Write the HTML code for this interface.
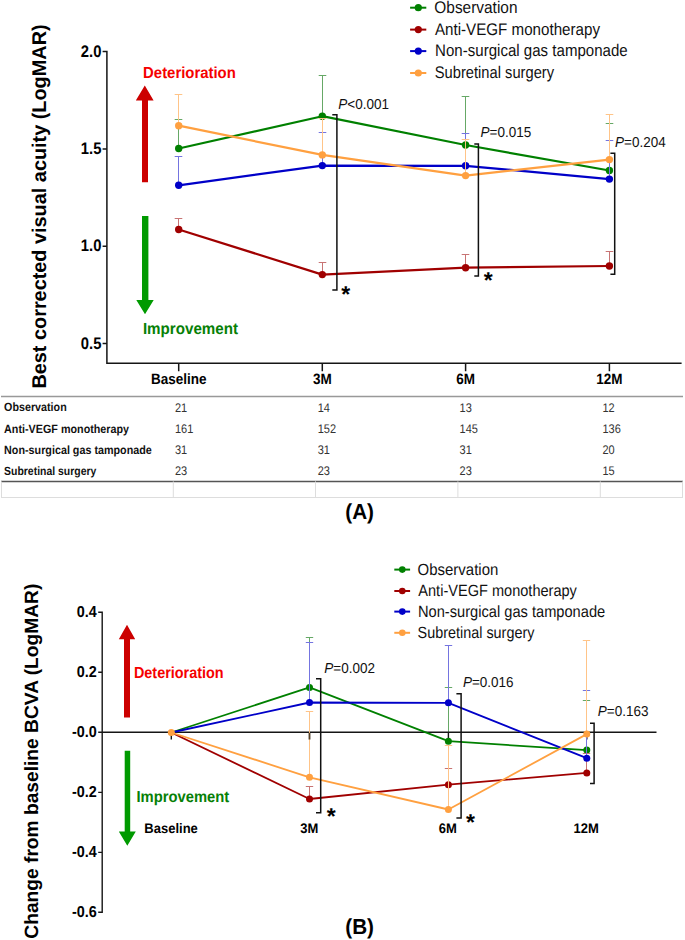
<!DOCTYPE html>
<html><head><meta charset="utf-8"><style>
html,body{margin:0;padding:0;background:#fff;width:685px;height:940px;overflow:hidden}
svg{display:block;font-family:"Liberation Sans",sans-serif;text-rendering:geometricPrecision}
.tb{font-weight:bold;fill:#000}
.eg{stroke:#66a866;stroke-width:1;fill:none}
.er{stroke:#c87474;stroke-width:1;fill:none}
.eb{stroke:#7474e0;stroke-width:1;fill:none}
.eo{stroke:#ffc488;stroke-width:1;fill:none}
.br{stroke:#111;stroke-width:1.5;fill:none}
</style></head><body>
<svg width="685" height="940" viewBox="0 0 685 940">
<!-- ================= CHART A ================= -->
<!-- y axis title -->
<text class="tb" font-size="19.87" transform="translate(46.1,206.5) rotate(-90)" text-anchor="middle">Best corrected visual acuity (LogMAR)</text>
<!-- axes -->
<path d="M102.6 51.5H106.9V363.3H681.6M102.6 149H106.9M102.6 246.2H106.9M102.6 343.6H106.9M178.7 363.3V371.2M322.3 363.3V371.2M465.6 363.3V371.2M609.4 363.3V371.2" stroke="#151515" stroke-width="1.5" fill="none"/>
<g class="tb" font-size="14.8" text-anchor="end">
<text transform="translate(101.4,57) scale(1,1.13)">2.0</text>
<text transform="translate(101.4,154) scale(1,1.13)">1.5</text>
<text transform="translate(101.4,251) scale(1,1.13)">1.0</text>
<text transform="translate(101.4,349) scale(1,1.13)">0.5</text>
</g>
<g class="tb" font-size="13.5" text-anchor="middle">
<text transform="translate(178.8,384) scale(1,1.107)">Baseline</text>
<text transform="translate(322.3,384) scale(1,1.107)">3M</text>
<text transform="translate(465.6,384) scale(1,1.107)">6M</text>
<text transform="translate(609.4,384) scale(1,1.107)">12M</text>
</g>
<!-- arrows -->
<path d="M142 182.2V100.6H135.8L144.8 85.5L153.6 100.6H148V182.2Z" fill="#cc0000"/>
<path d="M142 215.9V299.9H136.3L145 314.2L153.7 299.9H148.4V215.9Z" fill="#009a00"/>
<text transform="translate(143.1,78) scale(1,1.073)" font-size="14.9" font-weight="bold" fill="#f50000">Deterioration</text>
<text transform="translate(142.9,334) scale(1,1.06)" font-size="15.15" font-weight="bold" fill="#068006">Improvement</text>

<!-- series A -->
<path class="eg" d="M178.5 148.5V119.5M174.7 119.5H182.3M322.5 116.2V75.5M318.7 75.5H326.3M465.5 145V96.5M461.7 96.5H469.3M609.5 170.5V123.5M605.7 123.5H613.3"/>
<polyline points="178.7,148.5 322.3,116.2 465.6,145 609.4,170.5" stroke="#008000" stroke-width="2.2" fill="none" stroke-linejoin="round"/>
<g fill="#008000"><circle cx="178.7" cy="148.5" r="3.7"/><circle cx="322.3" cy="116.2" r="3.7"/><circle cx="465.6" cy="145" r="3.7"/><circle cx="609.4" cy="170.5" r="3.7"/></g>
<path class="er" d="M178.5 229.5V218.5M174.7 218.5H182.3M322.5 274.6V262.5M318.7 262.5H326.3M465.5 267.7V254.5M461.7 254.5H469.3M609.5 266V251.5M605.7 251.5H613.3"/>
<polyline points="178.7,229.5 322.3,274.6 465.6,267.7 609.4,266" stroke="#a00000" stroke-width="2.2" fill="none" stroke-linejoin="round"/>
<g fill="#a00000"><circle cx="178.7" cy="229.5" r="3.7"/><circle cx="322.3" cy="274.6" r="3.7"/><circle cx="465.6" cy="267.7" r="3.7"/><circle cx="609.4" cy="266" r="3.7"/></g>
<path class="eb" d="M178.5 185.3V156.5M174.7 156.5H182.3M322.5 165.6V132.5M318.7 132.5H326.3M465.5 165.8V133.5M461.7 133.5H469.3M609.5 179.1V140.5M605.7 140.5H613.3"/>
<polyline points="178.7,185.3 322.3,165.6 465.6,165.8 609.4,179.1" stroke="#0000c8" stroke-width="2.2" fill="none" stroke-linejoin="round"/>
<g fill="#0000c8"><circle cx="178.7" cy="185.3" r="3.7"/><circle cx="322.3" cy="165.6" r="3.7"/><circle cx="465.6" cy="165.8" r="3.7"/><circle cx="609.4" cy="179.1" r="3.7"/></g>
<path class="eo" d="M178.5 125.7V94.5M174.7 94.5H182.3M322.5 154.9V118.5M318.7 118.5H326.3M465.5 175.6V139.5M461.7 139.5H469.3M609.5 159.6V114.5M605.7 114.5H613.3"/>
<polyline points="178.7,125.7 322.3,154.9 465.6,175.6 609.4,159.6" stroke="#ffa040" stroke-width="2.2" fill="none" stroke-linejoin="round"/>
<g fill="#ffa040"><circle cx="178.7" cy="125.7" r="3.7"/><circle cx="322.3" cy="154.9" r="3.7"/><circle cx="465.6" cy="175.6" r="3.7"/><circle cx="609.4" cy="159.6" r="3.7"/></g>

<!-- brackets A -->
<path class="br" d="M332.3 114.7H336.9V290.1H332.3M474.3 143.9H478.4V275.9H474.3M610.4 153.3H614.7V274.2H610.4"/>
<g font-size="13.5" fill="#111">
<text transform="translate(338.3,109) scale(1,1.07)"><tspan font-style="italic">P</tspan>&lt;0.001</text>
<text transform="translate(480.6,137) scale(1,1.07)"><tspan font-style="italic">P</tspan>=0.015</text>
<text transform="translate(615,147) scale(1,1.07)"><tspan font-style="italic">P</tspan>=0.204</text>
</g>
<g class="tb" font-size="23">
<text x="345.7" y="301.7" text-anchor="middle">*</text>
<text x="488.2" y="288.4" text-anchor="middle">*</text>
</g>

<!-- legend A -->
<g font-size="15" fill="#111">
<text transform="translate(434.3,13) scale(1,1.128)" textLength="83.2" lengthAdjust="spacingAndGlyphs">Observation</text>
<text transform="translate(434.9,35) scale(1,1.128)" textLength="165.1" lengthAdjust="spacingAndGlyphs">Anti-VEGF monotherapy</text>
<text transform="translate(435.1,56) scale(1,1.128)" textLength="192.6" lengthAdjust="spacingAndGlyphs">Non-surgical gas tamponade</text>
<text transform="translate(434.7,78) scale(1,1.128)" textLength="119.4" lengthAdjust="spacingAndGlyphs">Subretinal surgery</text>
</g>
<g stroke-width="2">
<path d="M410.1 7.7H426.3" stroke="#008000"/><circle cx="418.3" cy="7.7" r="3.6" fill="#008000"/>
<path d="M410.1 29.6H426.3" stroke="#a00000"/><circle cx="418.3" cy="29.6" r="3.6" fill="#a00000"/>
<path d="M410.1 51.1H426.3" stroke="#0000c8"/><circle cx="418.3" cy="51.1" r="3.6" fill="#0000c8"/>
<path d="M410.1 73H426.3" stroke="#ffa040"/><circle cx="418.3" cy="73" r="3.6" fill="#ffa040"/>
</g>

<!-- table -->
<path d="M1 396.4H683" stroke="#999" stroke-width="1.5"/>
<path d="M1 481.4H683" stroke="#555" stroke-width="1.5"/>
<path d="M1 497.5H683M1.5 481.4V497.5M173.3 481.4V497.5M315.5 481.4V497.5M457.9 481.4V497.5M600.3 481.4V497.5M682.5 481.4V497.5" stroke="#ddd" stroke-width="1"/>
<g font-size="10.5" font-weight="bold" fill="#111">
<text transform="translate(4.1,411) scale(1,1.14)" textLength="62.6" lengthAdjust="spacingAndGlyphs">Observation</text>
<text transform="translate(4.1,433) scale(1,1.14)" textLength="125" lengthAdjust="spacingAndGlyphs">Anti-VEGF monotherapy</text>
<text transform="translate(4.1,454) scale(1,1.14)" textLength="147.7" lengthAdjust="spacingAndGlyphs">Non-surgical gas tamponade</text>
<text transform="translate(4.1,475) scale(1,1.14)" textLength="92.2" lengthAdjust="spacingAndGlyphs">Subretinal surgery</text>
</g>
<g font-size="11" fill="#333">
<text transform="translate(175,412) scale(1,1.14)">21</text><text transform="translate(317.7,412) scale(1,1.14)">14</text><text transform="translate(459.6,412) scale(1,1.14)">13</text><text transform="translate(602.4,412) scale(1,1.14)">12</text>
<text transform="translate(175,433) scale(1,1.14)">161</text><text transform="translate(317.7,433) scale(1,1.14)">152</text><text transform="translate(459.6,433) scale(1,1.14)">145</text><text transform="translate(602.4,433) scale(1,1.14)">136</text>
<text transform="translate(175,454) scale(1,1.14)">31</text><text transform="translate(317.7,454) scale(1,1.14)">31</text><text transform="translate(459.6,454) scale(1,1.14)">31</text><text transform="translate(602.4,454) scale(1,1.14)">20</text>
<text transform="translate(175,475) scale(1,1.14)">23</text><text transform="translate(317.7,475) scale(1,1.14)">23</text><text transform="translate(459.6,475) scale(1,1.14)">23</text><text transform="translate(602.4,475) scale(1,1.14)">15</text>
</g>
<text class="tb" transform="translate(359.6,519) scale(1,1.05)" font-size="20.7" text-anchor="middle">(A)</text>

<!-- ================= CHART B ================= -->
<text class="tb" font-size="19.2" transform="translate(38.0,761.2) rotate(-90)" text-anchor="middle">Change from baseline BCVA (LogMAR)</text>
<g class="tb" font-size="14.4" text-anchor="end">
<text transform="translate(96.7,617) scale(1,1.1)">0.4</text>
<text transform="translate(96.7,677) scale(1,1.1)">0.2</text>
<text transform="translate(96.7,737) scale(1,1.1)">-0.0</text>
<text transform="translate(96.7,797) scale(1,1.1)">-0.2</text>
<text transform="translate(96.7,857) scale(1,1.1)">-0.4</text>
<text transform="translate(96.7,917) scale(1,1.1)">-0.6</text>
</g>
<g class="tb" font-size="13" text-anchor="middle">
<text transform="translate(171.1,833) scale(1,1.064)">Baseline</text>
<text transform="translate(309.3,833) scale(1,1.064)">3M</text>
<text transform="translate(447.8,833) scale(1,1.064)">6M</text>
<text transform="translate(586.2,833) scale(1,1.064)">12M</text>
</g>
<path d="M124 717.5V639.3H118.8L127 624.7L135.2 639.3H130V717.5Z" fill="#cc0000"/>
<path d="M124.7 750.8V831.4H118.8L127.3 845.7L135.8 831.4H130.2V750.8Z" fill="#009a00"/>
<text transform="translate(133.9,678) scale(1,1.107)" font-size="14.43" font-weight="bold" fill="#f50000">Deterioration</text>
<text transform="translate(136.5,802) scale(1,1.077)" font-size="14.78" font-weight="bold" fill="#068006">Improvement</text>

<!-- series B -->
<path class="eg" d="M309.5 687.4V637.5M305.8 637.5H313.2M448.5 741.2V687.5M444.8 687.5H452.2M586.5 750.1V700.5M582.8 700.5H590.2"/>
<path d="M98.2 612.2H102.2V912.3H98.2M98.2 672.2H102.2M98.2 792.4H102.2M98.2 852.4H102.2M98.2 732.3H656.5M171.3 732.3V739.5M309.5 732.3V739.5M448.4 732.3V739.5M586.8 732.3V739.5" stroke="#151515" stroke-width="1.4" fill="none"/>
<polyline points="171.3,732.5 309.5,687.4 448.4,741.2 586.8,750.1" stroke="#008000" stroke-width="1.8" fill="none" stroke-linejoin="round"/>
<g fill="#008000"><circle cx="309.5" cy="687.4" r="3.5"/><circle cx="448.4" cy="741.2" r="3.5"/><circle cx="586.8" cy="750.1" r="3.5"/></g>
<path class="er" d="M309.5 799V786.5M305.8 786.5H313.2M448.5 784.7V768.5M444.8 768.5H452.2M586.5 772.9V753.5M582.8 753.5H590.2"/>
<polyline points="171.3,732.5 309.5,799 448.4,784.7 586.8,772.9" stroke="#a00000" stroke-width="1.8" fill="none" stroke-linejoin="round"/>
<g fill="#a00000"><circle cx="309.5" cy="799" r="3.5"/><circle cx="448.4" cy="784.7" r="3.5"/><circle cx="586.8" cy="772.9" r="3.5"/></g>
<path class="eb" d="M309.5 702.5V642.5M305.8 642.5H313.2M448.5 702.8V645.5M444.8 645.5H452.2M586.5 758.2V690.5M582.8 690.5H590.2"/>
<polyline points="171.3,732.5 309.5,702.5 448.4,702.8 586.8,758.2" stroke="#0000c8" stroke-width="1.8" fill="none" stroke-linejoin="round"/>
<g fill="#0000c8"><circle cx="309.5" cy="702.5" r="3.5"/><circle cx="448.4" cy="702.8" r="3.5"/><circle cx="586.8" cy="758.2" r="3.5"/></g>
<path class="eo" d="M309.5 777.3V711.5M305.8 711.5H313.2M448.5 809.5V745.5M444.8 745.5H452.2M586.5 734.1V640.5M582.8 640.5H590.2"/>
<path d="M309.5 732.9V739.5" stroke="#5a4022" stroke-width="1.5"/>
<polyline points="171.3,732.5 309.5,777.3 448.4,809.5 586.8,734.1" stroke="#ffa040" stroke-width="1.8" fill="none" stroke-linejoin="round"/>
<g fill="#ffa040"><circle cx="171.3" cy="732.5" r="3.5"/><circle cx="309.5" cy="777.3" r="3.5"/><circle cx="448.4" cy="809.5" r="3.5"/><circle cx="586.8" cy="734.1" r="3.5"/></g>

<path class="br" d="M316 678.7H320.7V812.7H316M456.4 693.7H461.1V818.1H456.4M590 723.2H594.1V783.4H590"/>
<g font-size="13.5" fill="#111">
<text transform="translate(324.3,673) scale(1,1.07)"><tspan font-style="italic">P</tspan>=0.002</text>
<text transform="translate(462.9,687) scale(1,1.07)"><tspan font-style="italic">P</tspan>=0.016</text>
<text transform="translate(597.8,716) scale(1,1.07)"><tspan font-style="italic">P</tspan>=0.163</text>
</g>
<g class="tb" font-size="23">
<text x="331.3" y="824" text-anchor="middle">*</text>
<text x="470.6" y="829.9" text-anchor="middle">*</text>
</g>

<g font-size="14.5" fill="#111">
<text transform="translate(417.6,575) scale(1,1.12)" textLength="80.7" lengthAdjust="spacingAndGlyphs">Observation</text>
<text transform="translate(418.3,596) scale(1,1.12)" textLength="158.6" lengthAdjust="spacingAndGlyphs">Anti-VEGF monotherapy</text>
<text transform="translate(418,617) scale(1,1.12)" textLength="187.2" lengthAdjust="spacingAndGlyphs">Non-surgical gas tamponade</text>
<text transform="translate(417.6,638) scale(1,1.12)" textLength="116.8" lengthAdjust="spacingAndGlyphs">Subretinal surgery</text>
</g>
<g stroke-width="2">
<path d="M394.3 569.6H410.1" stroke="#008000"/><circle cx="402.3" cy="569.6" r="3.3" fill="#008000"/>
<path d="M394.3 591H410.1" stroke="#a00000"/><circle cx="402.3" cy="591" r="3.3" fill="#a00000"/>
<path d="M394.3 611.6H410.1" stroke="#0000c8"/><circle cx="402.3" cy="611.6" r="3.3" fill="#0000c8"/>
<path d="M394.3 632.8H410.1" stroke="#ffa040"/><circle cx="402.3" cy="632.8" r="3.3" fill="#ffa040"/>
</g>
<text class="tb" transform="translate(359.6,934) scale(1,1.048)" font-size="20.7" text-anchor="middle">(B)</text>
</svg>
</body></html>
